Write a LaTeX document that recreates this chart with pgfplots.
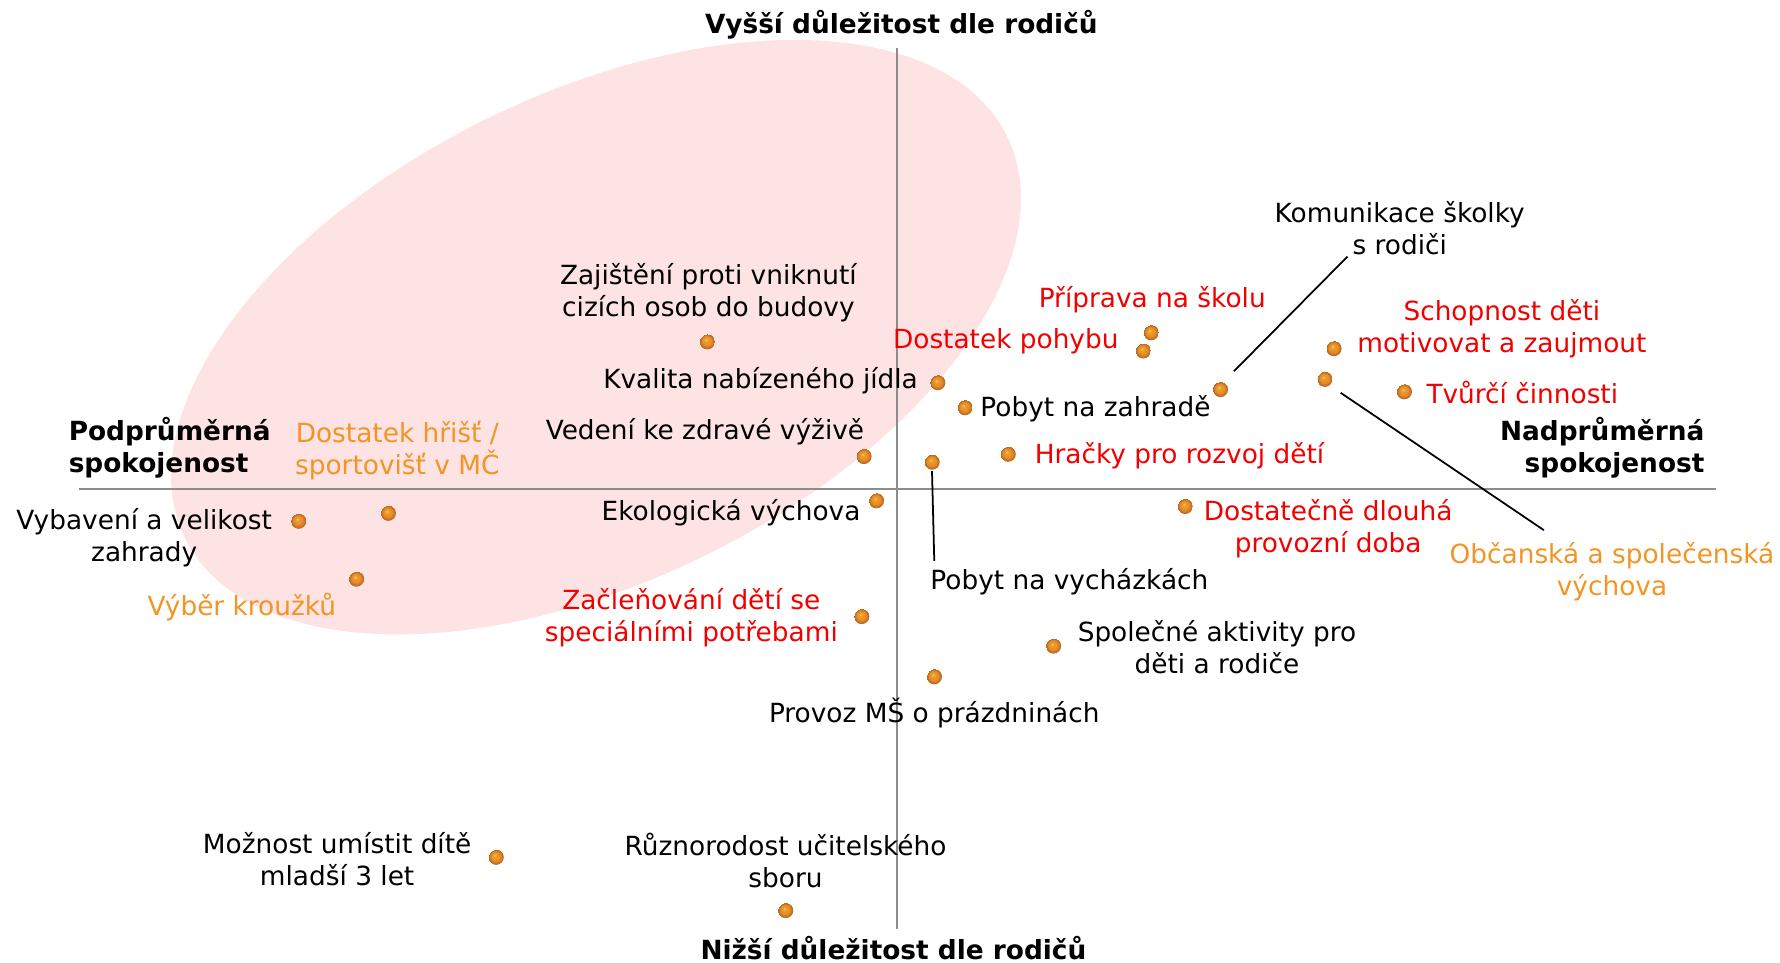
\documentclass[border=0pt]{standalone}
\usepackage{fontspec}
\setmainfont{DejaVu Sans}
\usepackage{pgfplots}
\pgfplotsset{compat=1.18}
\definecolor{lblred}{HTML}{F20000}
\definecolor{lblorange}{HTML}{F39424}
\definecolor{ellpink}{HTML}{FDE3E3}
\definecolor{axisgray}{HTML}{8C8C8C}
\definecolor{dotorange}{HTML}{E8892C}

% orange glossy dot
\pgfdeclareradialshading{orball}{\pgfpoint{-5bp}{7bp}}{%
  color(0bp)=(white!55!dotorange); color(5bp)=(dotorange!80!yellow);
  color(15bp)=(dotorange); color(22bp)=(dotorange!80!black); color(25bp)=(dotorange!80!black)}
\pgfdeclareplotmark{oball}{%
  \pgfpathcircle{\pgfpointorigin}{\pgfplotmarksize}%
  \pgfshadepath{orball}{0}\pgfusepath{discard}}

% positions in pixels of the 1568x848 view, y downwards
\pgfplotstableread{
x y
623 301
826 337
850 359
761 402
821 407
888 400
772 441
1007 309
1014 293
1075 343
1175 307
1167 334
1237 345
1044 446
928 569
823 596
759 543
342 452
263 459
314 510
437 755
692 802
}\points

\begin{document}
\begin{tikzpicture}[font=\fontsize{7.5}{9.1}\selectfont,
  lbl/.style={align=center,inner sep=0pt,text=black},
  hd/.style={inner sep=0pt,font=\fontsize{7.5}{9.1}\selectfont\bfseries}]
\begin{axis}[width=17.8cm,height=9.627cm,scale only axis,
  xmin=0,xmax=1568,ymin=0,ymax=848,y dir=reverse,
  hide axis,clip=false]
\path (rel axis cs:0,0) rectangle (rel axis cs:1,1);
\fill[ellpink,rotate around={26:(axis cs:525,297)}] (axis cs:525,297) ellipse [x radius=403,y radius=215];
% quadrant lines
\addplot[axisgray,line width=0.6pt] coordinates {(70,431) (1512,431)};
\addplot[axisgray,line width=0.6pt] coordinates {(790,42) (790,818)};
% leader lines
\addplot[black,line width=0.5pt] coordinates {(821,415) (823,494)};
\addplot[black,line width=0.5pt] coordinates {(1087,327) (1187,226)};
\addplot[black,line width=0.5pt] coordinates {(1181,346) (1360,467)};
\addplot[only marks,mark=oball,mark size=2.2pt] table {\points};

% axis titles
\node[hd] at (axis cs:794,22) {Vyšší důležitost dle rodičů};
\node[hd] at (axis cs:787,835) {Nižší důležitost dle rodičů};
\node[hd,align=left,anchor=west] at (axis cs:60,394) {Podprůměrná\\spokojenost};
\node[hd,align=right,anchor=east] at (axis cs:1502,394) {Nadprůměrná\\spokojenost};

% labels
\node[lbl] at (axis cs:624,258) {Zajištění proti vniknutí\\cizích osob do budovy};
\node[lbl] at (axis cs:670,335) {Kvalita nabízeného jídla};
\node[lbl] at (axis cs:965,360) {Pobyt na zahradě};
\node[lbl] at (axis cs:621,380) {Vedení ke zdravé výživě};
\node[lbl] at (axis cs:942,512) {Pobyt na vycházkách};
\node[lbl,text=lblred] at (axis cs:1039,401) {Hračky pro rozvoj dětí};
\node[lbl] at (axis cs:644,452) {Ekologická výchova};
\node[lbl,text=lblred] at (axis cs:886,301) {Dostatek pohybu};
\node[lbl,text=lblred] at (axis cs:1015,264) {Příprava na školu};
\node[lbl] at (axis cs:1233,201) {Komunikace školky\\s rodiči};
\node[lbl,text=lblred] at (axis cs:1323,290) {Schopnost děti\\motivovat a zaujmout};
\node[lbl,text=lblorange] at (axis cs:1420,504) {Občanská a společenská\\výchova};
\node[lbl,text=lblred] at (axis cs:1341,346) {Tvůrčí činnosti};
\node[lbl,text=lblred] at (axis cs:1170,466) {Dostatečně dlouhá\\provozní doba};
\node[lbl] at (axis cs:1072,570) {Společné aktivity pro\\děti a rodiče};
\node[lbl] at (axis cs:823,628) {Provoz MŠ o prázdninách};
\node[lbl,text=lblred] at (axis cs:609,544) {Začleňování dětí se\\speciálními potřebami};
\node[lbl,text=lblorange] at (axis cs:350,397) {Dostatek hřišť /\\sportovišť v MČ};
\node[lbl] at (axis cs:127,474) {Vybavení a velikost\\zahrady};
\node[lbl,text=lblorange] at (axis cs:213,535) {Výběr kroužků};
\node[lbl] at (axis cs:297,757) {Možnost umístit dítě\\mladší 3 let};
\node[lbl] at (axis cs:692,758) {Různorodost učitelského\\sboru};
\end{axis}
\end{tikzpicture}
\end{document}
